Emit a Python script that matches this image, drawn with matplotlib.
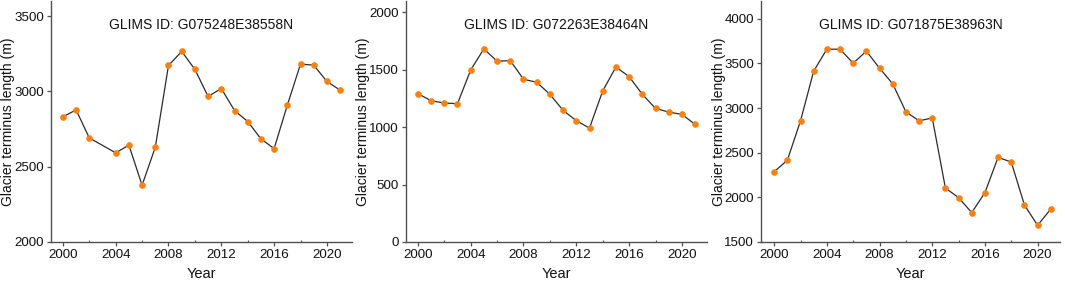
import matplotlib
matplotlib.use("Agg")
import matplotlib.pyplot as plt
from matplotlib.ticker import MultipleLocator

plt.rcParams['font.family'] = ['Liberation Sans', 'DejaVu Sans']

years1 = [2000, 2001, 2002, 2004, 2005, 2006, 2007, 2008, 2009, 2010, 2011,
          2012, 2013, 2014, 2015, 2016, 2017, 2018, 2019, 2020, 2021]
length1 = [2831, 2877, 2691, 2592, 2643, 2377, 2629, 3172, 3265, 3146, 2966,
           3019, 2873, 2800, 2685, 2620, 2908, 3181, 3174, 3066, 3008]

years2 = list(range(2000, 2022))
length2 = [1293, 1231, 1211, 1205, 1499, 1683, 1575, 1581, 1418, 1392, 1287,
           1147, 1057, 993, 1316, 1525, 1441, 1287, 1164, 1132, 1112, 1025]

years3 = list(range(2000, 2022))
length3 = [2287, 2416, 2857, 3414, 3660, 3660, 3503, 3638, 3447, 3272, 2959,
           2857, 2890, 2105, 1997, 1829, 2053, 2448, 2396, 1914, 1687, 1869]

titles = ["GLIMS ID: G075248E38558N", "GLIMS ID: G072263E38464N",
          "GLIMS ID: G071875E38963N"]
ylims = [(2000, 3600), (0, 2100), (1500, 4200)]
ysteps = [500, 500, 500]
xticks = [2000, 2004, 2008, 2012, 2016, 2020]

W, H = 1065, 282
fig = plt.figure(figsize=(W / 100, H / 100), dpi=100)

# axes boxes in pixels: left, right, top, bottom
boxes = [(51, 352, 1, 242), (406, 707, 1, 242), (761, 1060, 1, 242)]
xlims = [(1999.1, 2021.9), (1999.1, 2021.9), (1999.0, 2021.7)]

series = [(years1, length1), (years2, length2), (years3, length3)]
spine_c = '#505050'
for i, ((l, r, t, b), (xs, ys)) in enumerate(zip(boxes, series)):
    ax = fig.add_axes([l / W, 1 - b / H, (r - l) / W, (b - t) / H])
    ax.plot(xs, ys, color='#2b2b2b', lw=0.9, zorder=2)
    ax.plot(xs, ys, 'o', color='#ff7f0e', ms=4.3, mec='#ff8000', mew=0.4, zorder=3)
    ax.set_xlim(*xlims[i])
    ax.set_ylim(*ylims[i])
    ax.set_xticks(xticks)
    ax.xaxis.set_minor_locator(MultipleLocator(2))
    ax.yaxis.set_major_locator(MultipleLocator(ysteps[i]))
    for s in ['top', 'right']:
        ax.spines[s].set_visible(False)
    for s in ['left', 'bottom']:
        ax.spines[s].set_color(spine_c)
        ax.spines[s].set_linewidth(1.0)
    ax.tick_params(axis='both', which='major', direction='out', length=3,
                   width=0.9, color=spine_c, labelsize=9.6, pad=2, labelcolor='#111111')
    ax.tick_params(axis='x', which='minor', direction='in', length=1.5,
                   width=0.8, color=spine_c)
    ax.set_xlabel('Year', fontsize=10.5, labelpad=4, color='#111111')
    ax.set_ylabel('Glacier terminus length (m)', fontsize=10, color='#111111')
    ax.yaxis.label.set_va('center')
    ax.yaxis.set_label_coords(-42.5 / (r - l), 0.5)
    ax.text(0.5, 0.9, titles[i], transform=ax.transAxes, ha='center',
            va='center', fontsize=10, color='#111111')

fig.savefig('out.png', dpi=100, facecolor='white')
